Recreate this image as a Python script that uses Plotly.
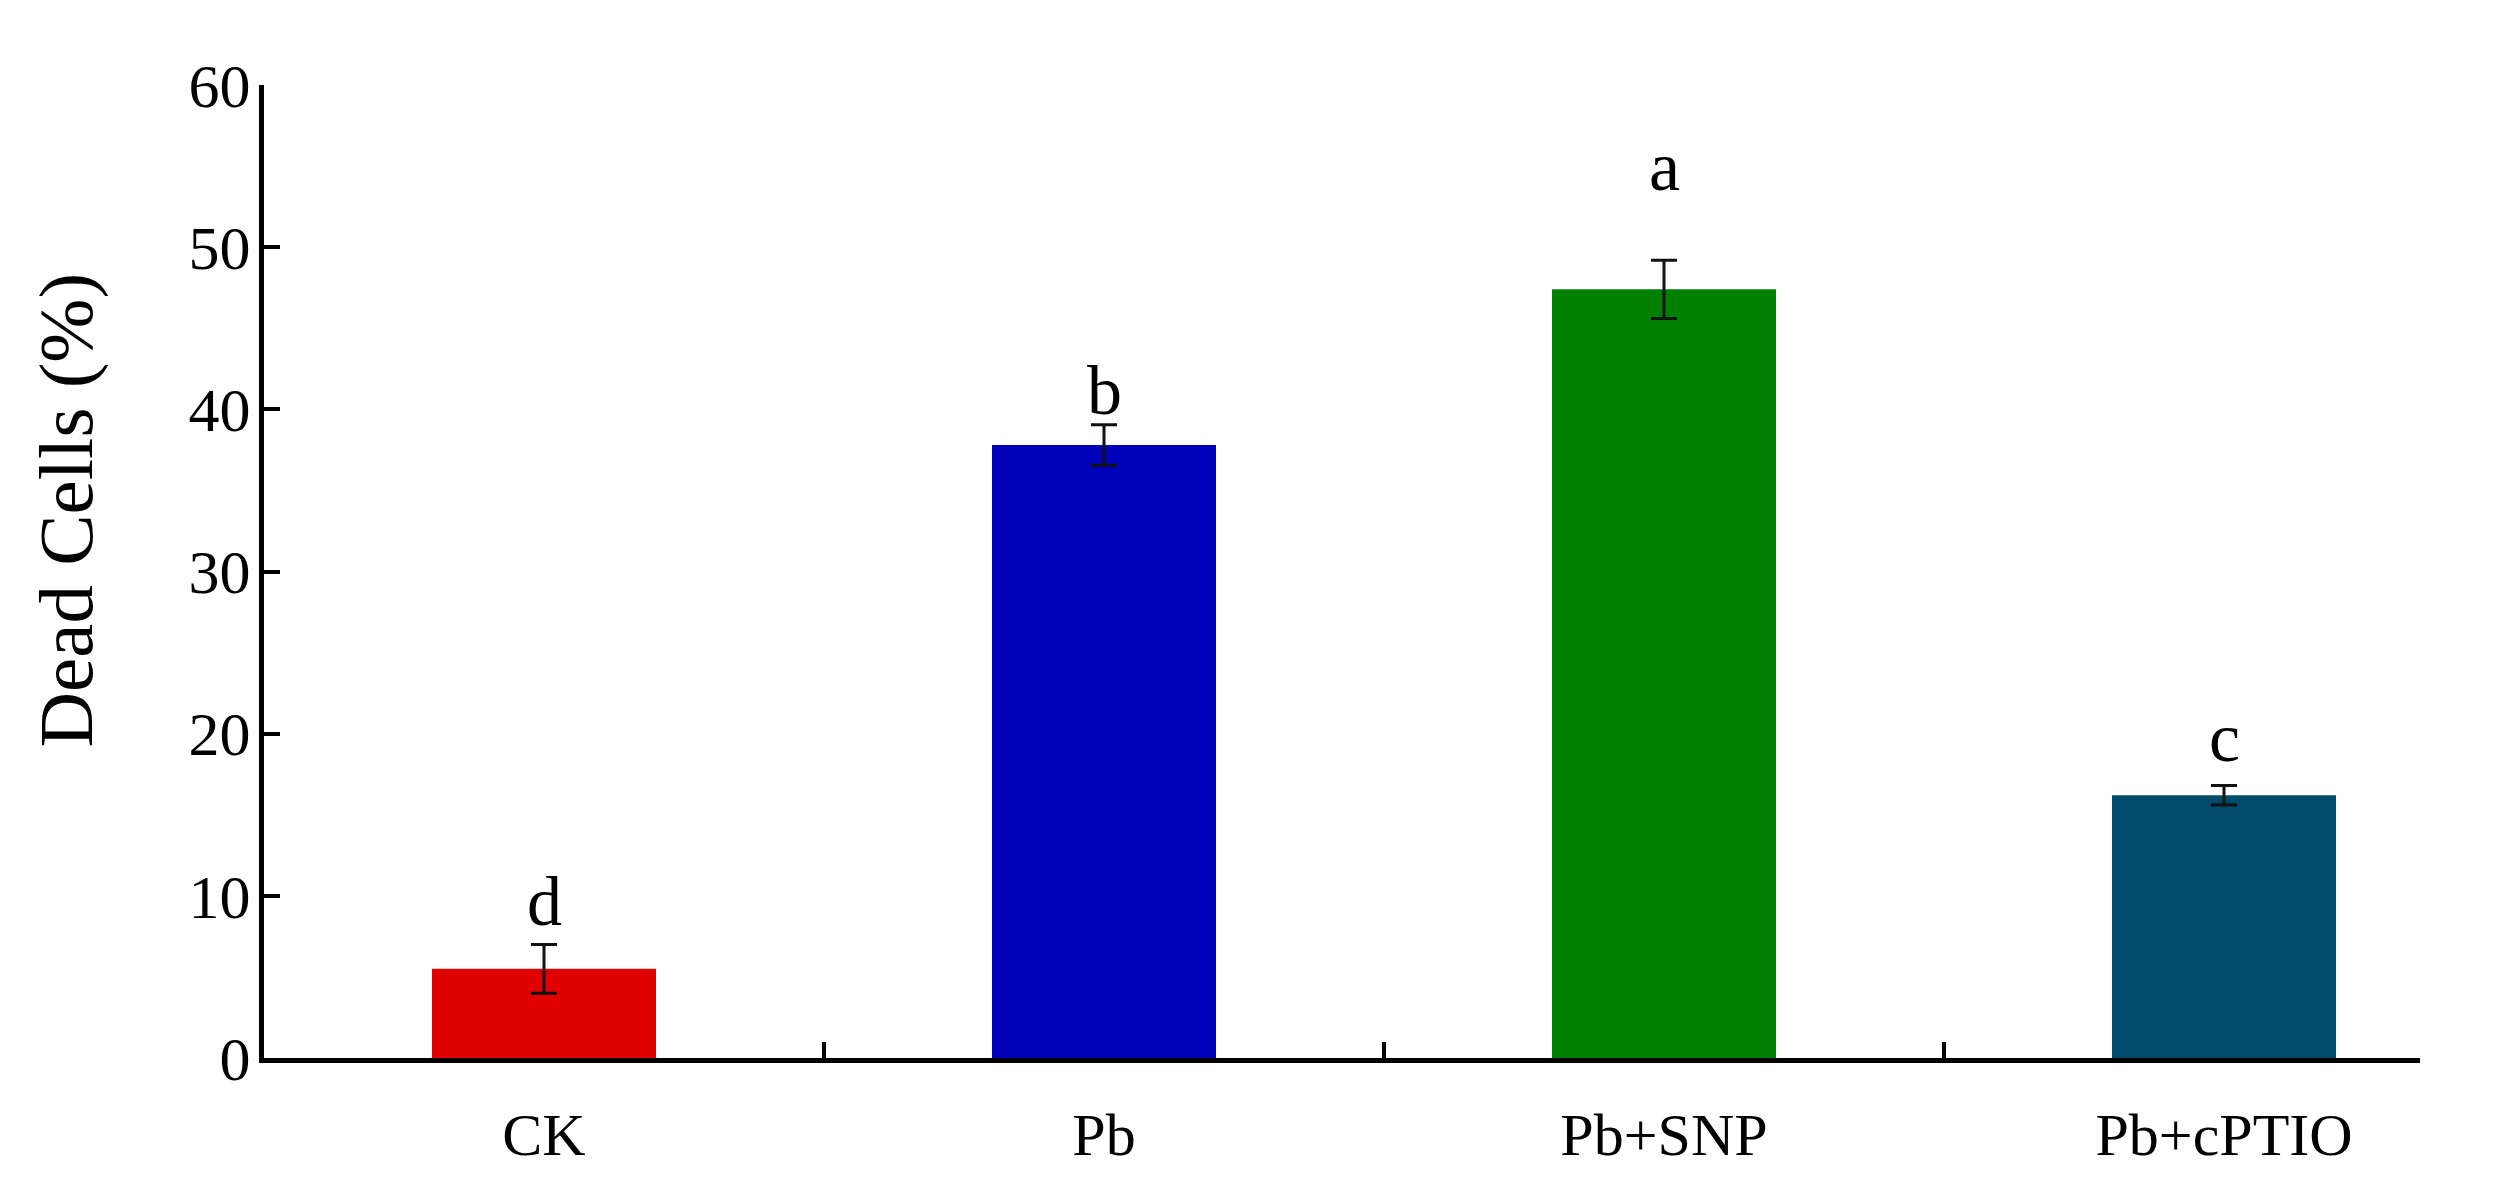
import plotly.graph_objects as go

categories = ["CK", "Pb", "Pb+SNP", "Pb+cPTIO"]
dead_cells = [5.5, 37.8, 47.4, 16.2]
errors = [1.5, 1.25, 1.8, 0.6]
letters = ["d", "b", "a", "c"]
letter_y = [7.9, 39.4, 53.2, 18.0]
bar_colors = ["#E00000", "#0000B8", "#008000", "#004B6B"]
y_ticks = [0, 10, 20, 30, 40, 50, 60]

FONT = "Liberation Serif, Times New Roman, serif"
x_pos = list(range(len(categories)))

fig = go.Figure()
fig.add_trace(go.Bar(
    x=x_pos, y=dead_cells, width=0.4,
    marker=dict(color=bar_colors, line=dict(width=0)),
    error_y=dict(type="data", array=errors, visible=True, color="#111111",
                 thickness=3, width=13),
    showlegend=False,
))

for xi, ly, lt in zip(x_pos, letter_y, letters):
    fig.add_annotation(x=xi, y=ly, text=lt, showarrow=False,
                       yanchor="bottom", yshift=-12,
                       font=dict(family=FONT, size=70, color="black"))

fig.add_annotation(xref="paper", yref="y", x=-0.092, y=33.8, text="Dead Cells (%)",
                   textangle=-90, showarrow=False, xanchor="center", yanchor="middle",
                   font=dict(family=FONT, size=77, color="black"))

fig.update_layout(
    width=2513, height=1182,
    margin=dict(l=256, r=101, t=77, b=132),
    plot_bgcolor="white", paper_bgcolor="white",
    bargap=0.6,
    font=dict(family=FONT, size=58, color="black"),
)
fig.update_xaxes(
    range=[-0.5, 3.35], tickvals=x_pos, ticktext=categories,
    ticks="", showline=True, linecolor="black", linewidth=5,
    showgrid=False, zeroline=False, ticklabelstandoff=20,
    tickfont=dict(family=FONT, size=60, color="black"),
    minor=dict(tickvals=[0.5, 1.5, 2.5], ticks="inside", ticklen=16,
               tickwidth=4, tickcolor="black", showgrid=False),
)
fig.update_yaxes(
    range=[0, 60], tickvals=y_ticks, ticks="inside", ticklen=16, tickwidth=4,
    tickcolor="black", showline=True, linecolor="black", linewidth=5,
    showgrid=False, zeroline=False, ticklabelstandoff=-4,
    tickfont=dict(family=FONT, size=62, color="black"),
)

fig.write_html("out.html")
